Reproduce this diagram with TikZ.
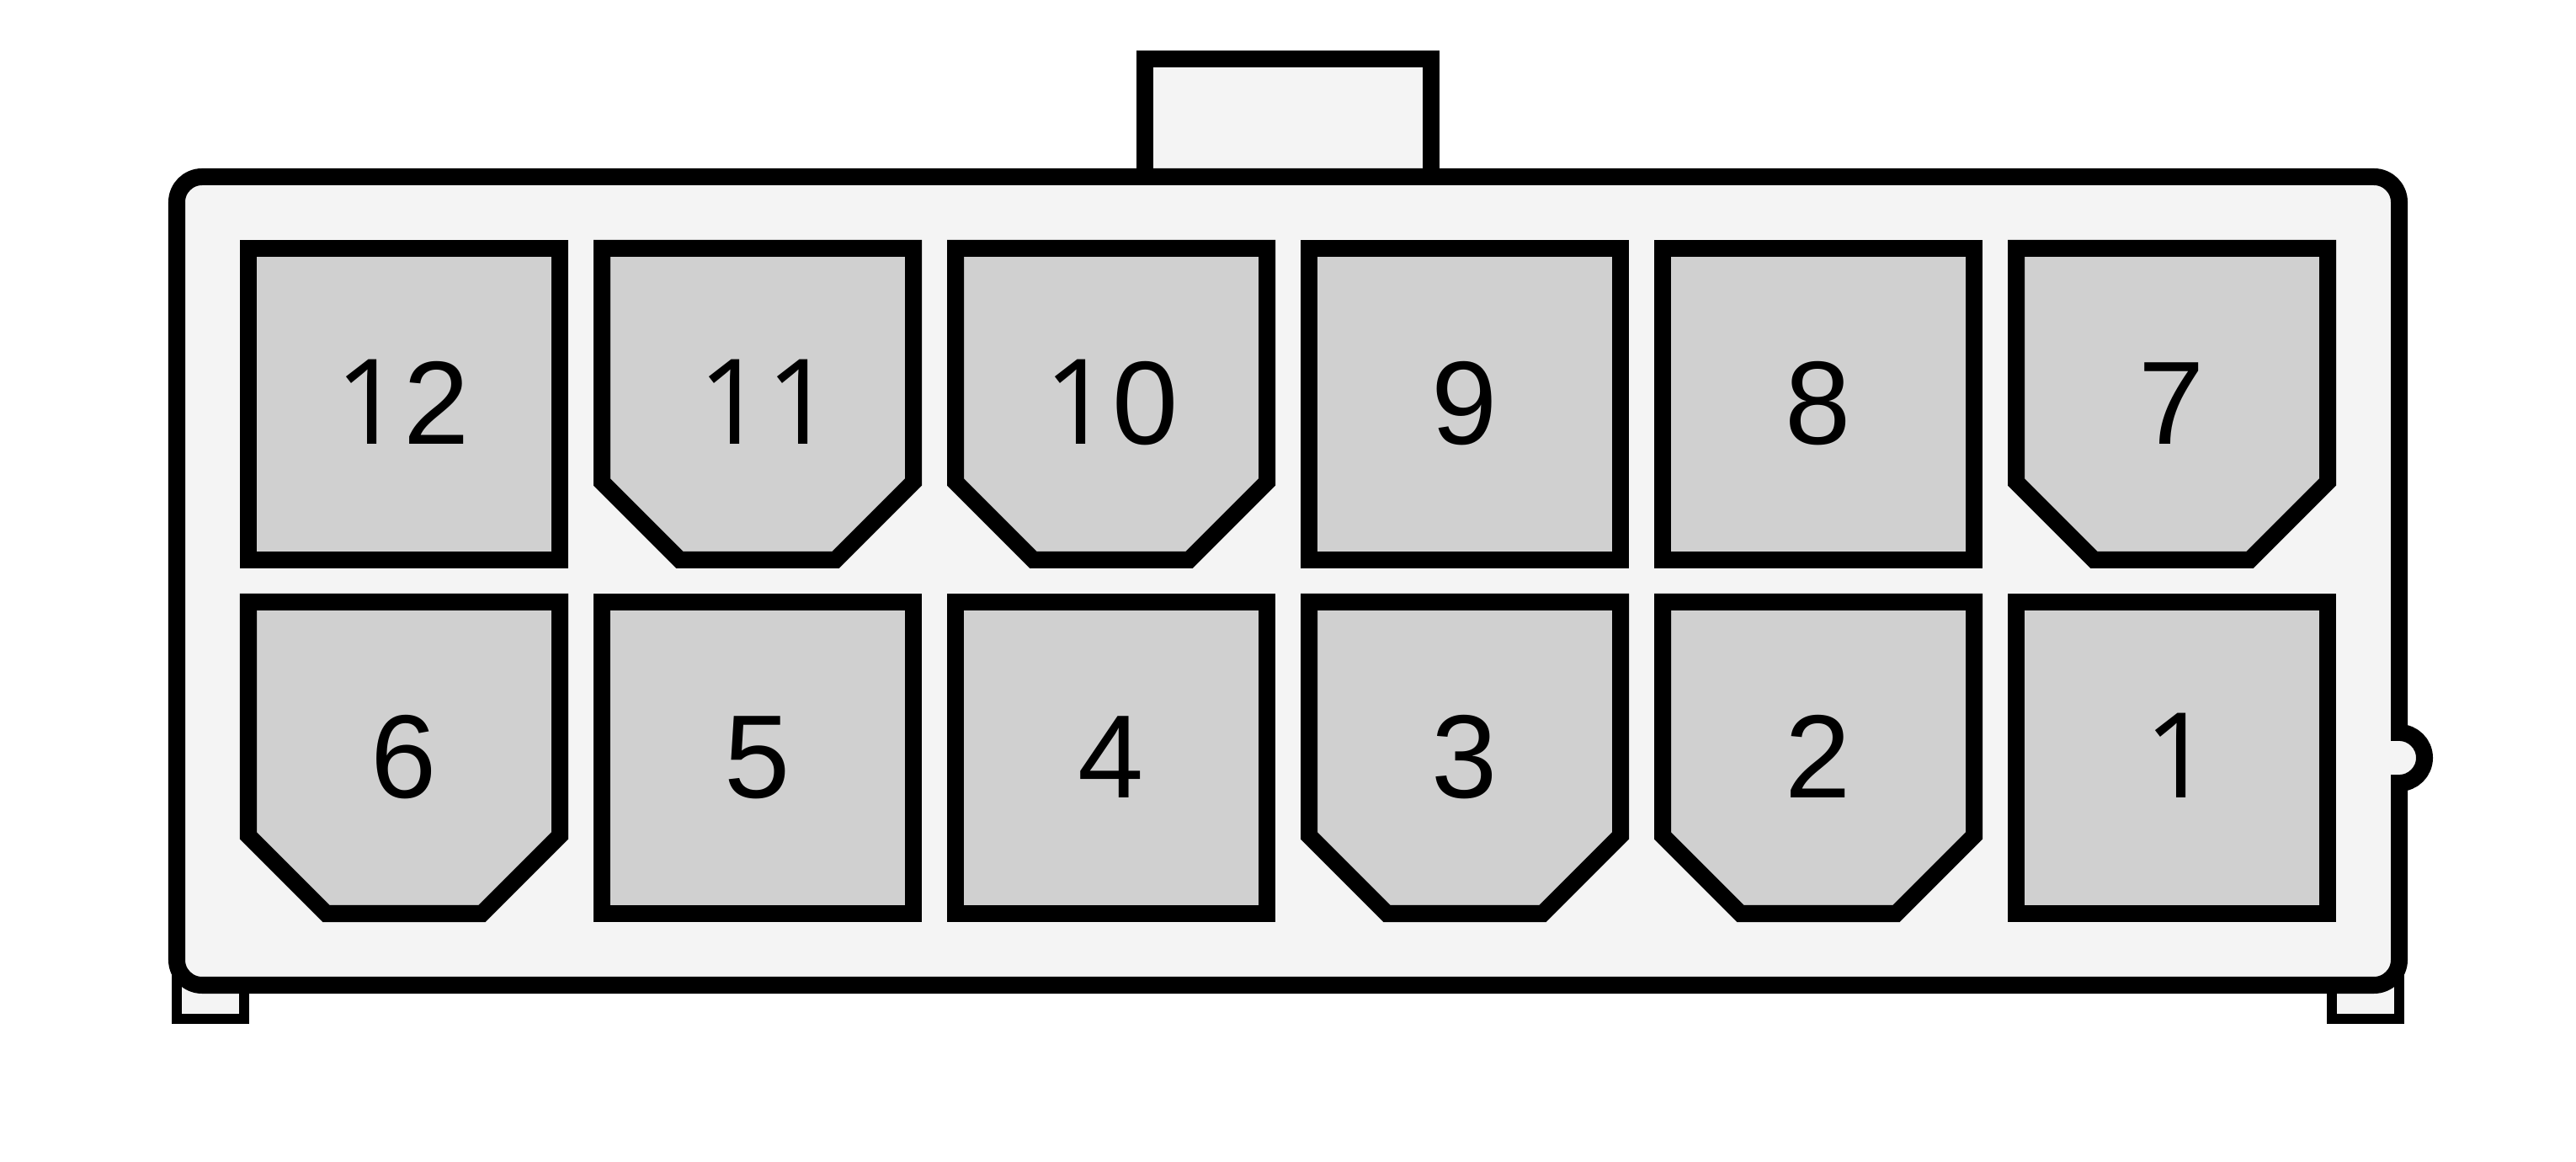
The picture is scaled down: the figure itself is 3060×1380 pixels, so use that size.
\documentclass[tikz,border=0pt]{standalone}
\usepackage{fontspec}
\setmainfont{Liberation Sans}
\newfontfamily\onefont{Open Sans}
\definecolor{shellgray}{HTML}{F4F4F4}
\definecolor{pingray}{HTML}{D0D0D0}
\tikzset{
  shell/.style={draw=black,fill=shellgray,line width=0.2cm},
  foot/.style={draw=black,fill=shellgray,line width=0.12cm},
  pinbox/.style={draw=black,fill=pingray,line width=0.2cm},
  pinsq/.style={pinbox,minimum size=3.7cm,inner sep=0pt,outer sep=0pt},
  pinlabel/.style={anchor=base,inner sep=0pt,font=\fontsize{40pt}{40pt}\selectfont}
}
\begin{document}
\begin{tikzpicture}[x=0.01cm,y=-0.01cm]
\useasboundingbox (0,0) rectangle (3060,1380);
\fill[white] (0,0) rectangle (3060,1380);
% Feet and top tab
\draw[foot] (210,1150) -- (210,1210) -- (290,1210) -- (290,1150);
\draw[foot] (2770,1150) -- (2770,1210) -- (2850,1210) -- (2850,1150);
\draw[shell] (1360,210) -- (1360,70) -- (1700,70) -- (1700,210);
% Shell
\draw[shell,rounded corners=0.3cm] (210,210) rectangle (2850,1170);
% Latch
\draw[shell] (2850,930) arc[start angle=90,end angle=-90,radius=30];
\fill[shellgray] (2839,880) rectangle (2851,920);
% Top row
\node[pinsq] (pin12) at (480,480) {};
\draw[pinbox] (715,295) -- (1085,295) -- (1085,572.5) -- (992.5,665) -- (807.5,665) -- (715,572.5) -- cycle;
\draw[pinbox] (1135,295) -- (1505,295) -- (1505,572.5) -- (1412.5,665) -- (1227.5,665) -- (1135,572.5) -- cycle;
\node[pinsq] (pin9) at (1740,480) {};
\node[pinsq] (pin8) at (2160,480) {};
\draw[pinbox] (2395,295) -- (2765,295) -- (2765,572.5) -- (2672.5,665) -- (2487.5,665) -- (2395,572.5) -- cycle;
% Bottom row
\draw[pinbox] (295,715) -- (665,715) -- (665,992.5) -- (572.5,1085) -- (387.5,1085) -- (295,992.5) -- cycle;
\node[pinsq] (pin5) at (900,900) {};
\node[pinsq] (pin4) at (1320,900) {};
\draw[pinbox] (1555,715) -- (1925,715) -- (1925,992.5) -- (1832.5,1085) -- (1647.5,1085) -- (1555,992.5) -- cycle;
\draw[pinbox] (1975,715) -- (2345,715) -- (2345,992.5) -- (2252.5,1085) -- (2067.5,1085) -- (1975,992.5) -- cycle;
\node[pinsq] (pin1) at (2580,900) {};
% Numbers
\node[pinlabel] (lab12) at (478,527.5) {{\onefont 1}2};
\node[pinlabel] (lab11) at (910,527.5) {{\onefont 11}};
\node[pinlabel] (lab10) at (1320,527.5) {{\onefont 1}0};
\node[pinlabel] (lab9) at (1740,527.5) {9};
\node[pinlabel] (lab8) at (2160,527.5) {8};
\node[pinlabel] (lab7) at (2580,527.5) {7};
\node[pinlabel] (lab6) at (480,947.5) {6};
\node[pinlabel] (lab5) at (900,947.5) {5};
\node[pinlabel] (lab4) at (1320,947.5) {4};
\node[pinlabel] (lab3) at (1740,947.5) {3};
\node[pinlabel] (lab2) at (2160,947.5) {2};
\node[pinlabel] (lab1) at (2588,947.5) {{\onefont 1}};
\end{tikzpicture}
\end{document}
